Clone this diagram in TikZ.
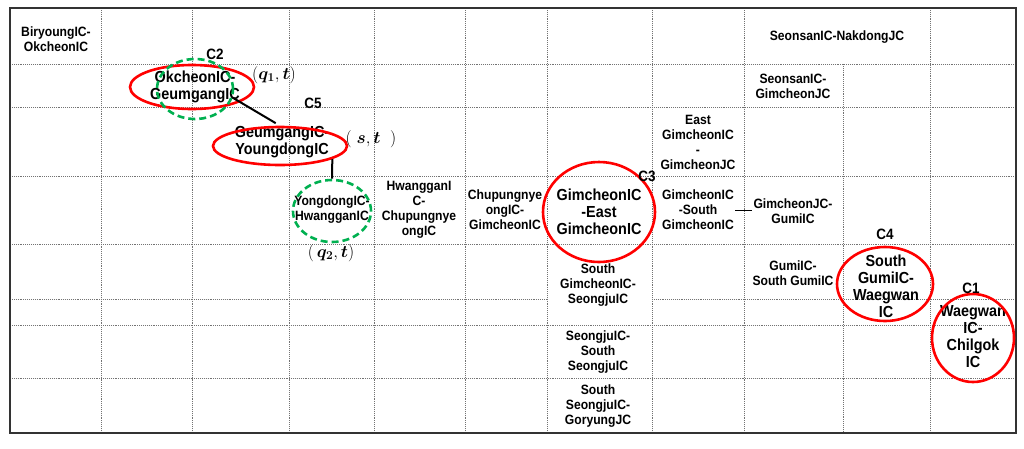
\documentclass[tikz,border=0pt]{standalone}
\usepackage{fontspec}
\usepackage{amsmath}
\setmainfont{Liberation Sans}[FakeStretch=0.9]
\usetikzlibrary{shapes.geometric}
\definecolor{redc}{RGB}{255,0,0}
\definecolor{greenc}{RGB}{0,176,80}
\begin{document}
\begin{tikzpicture}[x=1pt,y=-1pt,
  txt/.style={align=center,font=\fontsize{13.5}{15}\selectfont\bfseries,inner sep=1.5pt},
  big/.style={align=center,font=\fontsize{16}{17}\selectfont\bfseries,inner sep=1.5pt},
  clab/.style={font=\fontsize{15}{15}\selectfont\bfseries,inner sep=0pt},
  mlab/.style={font=\fontsize{17}{17}\selectfont,inner sep=0pt},
  redell/.style={draw=redc,line width=2.6pt,ellipse,inner sep=0pt},
  greenell/.style={draw=greenc,line width=2.6pt,ellipse,inner sep=0pt,dash pattern=on 7pt off 4pt},
  gridl/.style={draw=black!55,densely dotted,line width=0.9pt},
  conn/.style={draw=black,line width=2pt}
]
\useasboundingbox (0,0) rectangle (1024,448);
% grid
\foreach \x in {101,192,289,374,465,547,652,744,930} \draw[gridl] (\x,8) -- (\x,433);
\draw[gridl] (843,64) -- (843,433);
\foreach \y in {64,107,176,244,325,378} \draw[gridl] (10,\y) -- (1016,\y);
\draw[gridl] (10,299) -- (547,299);
\draw[gridl] (652,299) -- (1016,299);
\draw[line width=1.5pt,black!80] (10,8) rectangle (1016,433);
% cell texts
\node[txt] (biryoung) at (56,39) {BiryoungIC-\\OkcheonIC};
\node[txt] (seonnak) at (837,37) {SeonsanIC-NakdongJC};
\node[big] (okcheon) at (195,87) {OkcheonIC-\\GeumgangIC};
\node[txt] (seongim) at (793,86) {SeonsanIC-\\GimcheonJC};
\node[big] (geumgang) at (282,142) {GeumgangIC-\\YoungdongIC};
\node[txt] (eastgim) at (698,142) {East\\GimcheonIC\\-\\GimcheonJC};
\node[txt] (yongdong) at (332,210) {YongdongIC-\\HwangganIC};
\node[txt] (hwanggan) at (419,210) {HwangganI\\C-\\Chupungnye\\ongIC};
\node[txt] (chupung) at (505,210) {Chupungnye\\ongIC-\\GimcheonIC};
\node[big] (gimeast) at (599,212) {GimcheonIC\\-East\\GimcheonIC};
\node[txt] (gimsouth) at (698,210) {GimcheonIC\\-South\\GimcheonIC};
\node[txt] (gimjcgumi) at (793,211) {GimcheonJC-\\GumiIC};
\node[txt] (southgim) at (598,285) {South\\GimcheonIC-\\SeongjuIC};
\node[txt] (gumi) at (793,273) {GumiIC-\\South GumiIC};
\node[big] (southgumi) at (886,286) {South\\GumiIC-\\Waegwan\\IC};
\node[big] (waegwan) at (973,337) {Waegwan\\IC-\\Chilgok\\IC};
\node[txt] (seongju) at (598,352) {SeongjuIC-\\South\\SeongjuIC};
\node[txt] (southseongju) at (598,406) {South\\SeongjuIC-\\GoryungJC};
% ellipses
\node[redell,minimum width=124pt,minimum height=44pt] (e2) at (192,87) {};
\node[greenell,minimum width=76pt,minimum height=60pt] (g2) at (195,89) {};
\node[redell,minimum width=134pt,minimum height=38pt] (e5) at (280,146) {};
\node[greenell,minimum width=78pt,minimum height=62pt] (gq2) at (332,211) {};
\node[redell,minimum width=112pt,minimum height=100pt] (e3) at (599,212) {};
\node[redell,minimum width=96pt,minimum height=74pt] (e4) at (885,284) {};
\node[redell,minimum width=82pt,minimum height=88pt] (e1) at (973,338) {};
% labels
\node[clab] (c2) at (215,54) {C2};
\node[clab] (c5) at (313,103) {C5};
\node[clab] (c3) at (647,176) {C3};
\node[clab] (c4) at (885,234) {C4};
\node[clab] (c1) at (971,288) {C1};
\node[mlab] (q1t) at (274,75) {$(\boldsymbol{q_1},\boldsymbol{t})$};
\node[mlab] (st) at (371,139) {$(\;\boldsymbol{s},\boldsymbol{t}\;\;)$};
\node[mlab] (q2t) at (331,253) {$(\,\boldsymbol{q_2},\boldsymbol{t})$};
% connectors
\draw[conn,shorten >=5pt] (g2.-13) -- (e5.north);
\draw[conn] (e5.-14) -- (gq2.north);
\draw[black,line width=1pt] (gimsouth.east) -- (gimsouth.east -| gimjcgumi.west);
\end{tikzpicture}
\end{document}
